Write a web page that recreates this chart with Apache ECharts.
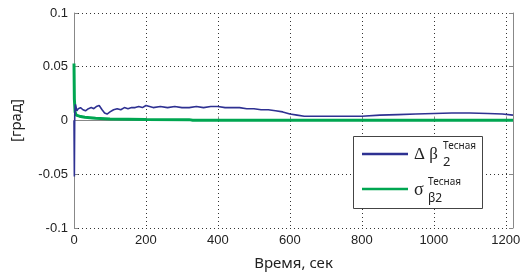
<!DOCTYPE html>
<html><head><meta charset="utf-8">
<script src="https://cdn.jsdelivr.net/npm/echarts@6/dist/echarts.min.js"></script>
<style>html,body{margin:0;padding:0;background:#fff}#c{width:531px;height:279px}</style>
</head><body><div id="c"></div>
<script>
const xTicks = [0, 200, 400, 600, 800, 1000, 1200];
const yTicks = [-0.1, -0.05, 0, 0.05, 0.1];
const blueT = [0,1,2,4,8,12,18,25,32,40,48,55,62,70,78,85,92,100,110,120,130,140,150,160,170,180,190,200,210,220,240,260,280,300,320,340,360,380,400,420,440,460,480,500,520,540,560,580,600,620,640,660,700,750,800,850,900,950,1000,1050,1100,1150,1190,1220];
const blueV = [0,-0.052,0.005,0.015,0.009,0.011,0.012,0.010,0.009,0.011,0.012,0.011,0.013,0.014,0.010,0.007,0.006,0.008,0.010,0.011,0.010,0.012,0.011,0.012,0.012,0.013,0.012,0.014,0.013,0.012,0.013,0.012,0.013,0.012,0.012,0.013,0.012,0.013,0.013,0.012,0.012,0.012,0.011,0.011,0.010,0.010,0.009,0.008,0.006,0.005,0.004,0.004,0.004,0.004,0.004,0.005,0.0055,0.006,0.0065,0.007,0.007,0.0065,0.006,0.005];
const greenT = [0,1,3,6,15,30,60,100,200,320,330,1220];
const greenV = [0.053,0.02,0.008,0.005,0.004,0.003,0.002,0.0015,0.001,0.0008,0.0003,0.0003];

const chart = echarts.init(document.getElementById('c'));
const tickFont = {fontFamily:'Liberation Sans, Arial', fontSize:13, color:'#222'};
chart.setOption({
  animation:false,
  grid:{left:74, top:13, right:18, bottom:51},
  xAxis:{type:'value', min:0, max:1220, interval:200,
    name:'Время, сек', nameLocation:'middle', nameGap:28,
    nameTextStyle:{fontFamily:'Noto Sans', fontSize:15, color:'#222'},
    axisLine:{show:true, lineStyle:{color:'#888'}},
    axisTick:{show:true, inside:true, length:4, lineStyle:{color:'#888'}},
    axisLabel:Object.assign({margin:6, showMaxLabel:false, formatter:v=>String(v)}, tickFont),
    splitLine:{show:true, lineStyle:{color:'#333', type:[1,3]}}
  },
  yAxis:[{type:'value', min:-0.1, max:0.1, interval:0.05,
    name:'[град]', nameLocation:'middle', nameGap:50, nameRotate:90,
    nameTextStyle:{fontFamily:'Noto Sans', fontSize:15, color:'#222'},
    axisLine:{show:true, lineStyle:{color:'#888'}},
    axisTick:{show:true, inside:true, length:4, lineStyle:{color:'#888'}},
    axisLabel:Object.assign({margin:6, formatter:v=>String(Math.round(v*100)/100)}, tickFont),
    splitLine:{show:true, lineStyle:{color:'#333', type:[1,3]}}
  },{type:'value', min:-0.1, max:0.1, interval:0.05, position:'right',
    axisLine:{show:true, lineStyle:{color:'#888'}},
    axisTick:{show:true, inside:true, length:4, lineStyle:{color:'#888'}},
    axisLabel:{show:false}, splitLine:{show:false}
  }],
  series:[
    {type:'line', data:greenT.map((t,i)=>[t,greenV[i]]), showSymbol:false,
      lineStyle:{color:'#00a651', width:3}, z:2},
    {type:'line', data:blueT.map((t,i)=>[t,blueV[i]]), showSymbol:false,
      lineStyle:{color:'#2e3192', width:1.6}, z:3}
  ],
  graphic:[
    {type:'rect', shape:{x:353.5, y:136.5, width:129, height:72}, style:{fill:'#fff', stroke:'#444', lineWidth:1}, z:10},
    {type:'line', shape:{x1:362, y1:154, x2:408, y2:154}, style:{stroke:'#2e3192', lineWidth:2.5}, z:11},
    {type:'line', shape:{x1:362, y1:189, x2:408, y2:189}, style:{stroke:'#00a651', lineWidth:2.5}, z:11},
    {type:'text', x:414, y:155, style:{text:'Δ β', font:'17px Liberation Serif', fill:'#222', verticalAlign:'middle'}, z:11},
    {type:'text', x:443, y:146, style:{text:'Тесная', font:'10px Noto Sans', fill:'#222', verticalAlign:'middle'}, z:11},
    {type:'text', x:443, y:162, style:{text:'2', font:'13px Noto Sans', fill:'#222', verticalAlign:'middle'}, z:11},
    {type:'text', x:414, y:190, style:{text:'σ', font:'18px Liberation Serif', fill:'#222', verticalAlign:'middle'}, z:11},
    {type:'text', x:428, y:182, style:{text:'Тесная', font:'10px Noto Sans', fill:'#222', verticalAlign:'middle'}, z:11},
    {type:'text', x:428, y:199, style:{text:'β2', font:'12px Noto Sans', fill:'#222', verticalAlign:'middle'}, z:11}
  ]
});
</script></body></html>
